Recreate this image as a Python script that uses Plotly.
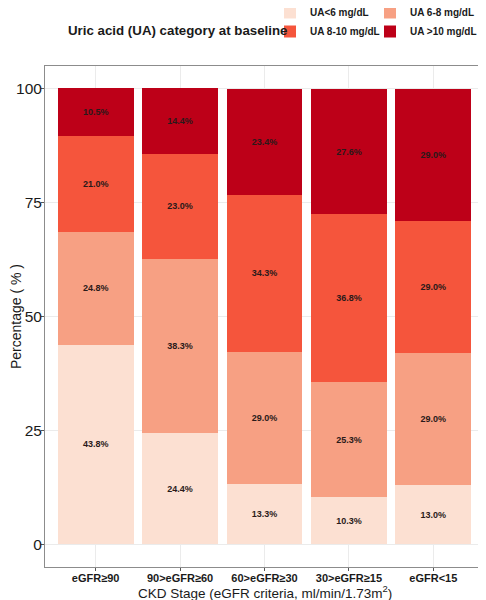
import plotly.graph_objects as go

# CKD stages on the x axis
stages = ["eGFR≥90", "90>eGFR≥60", "60>eGFR≥30", "30>eGFR≥15", "eGFR<15"]

# percentage of each uric acid category per stage (bottom to top)
ua_lt6 = [43.8, 24.4, 13.3, 10.3, 13.0]
ua_6_8 = [24.8, 38.3, 29.0, 25.3, 29.0]
ua_8_10 = [21.0, 23.0, 34.3, 36.8, 29.0]
ua_gt10 = [10.5, 14.4, 23.4, 27.6, 29.0]

series = [
    ("UA<6 mg/dL", ua_lt6, "#FCE0D2", "legend"),
    ("UA 6-8 mg/dL", ua_6_8, "#F7A083", "legend2"),
    ("UA 8-10 mg/dL", ua_8_10, "#F5553C", "legend"),
    ("UA >10 mg/dL", ua_gt10, "#BD0018", "legend2"),
]

FONT = "Arial, Liberation Sans, sans-serif"

fig = go.Figure()
for name, vals, col, leg in series:
    fig.add_trace(go.Bar(
        x=stages, y=vals, name=name, marker_color=col, marker_line_width=0,
        text=vals, texttemplate="<b>%{text:.1f}%</b>",
        textposition="inside", insidetextanchor="middle",
        textfont=dict(size=9, color="#2a1a1a", family=FONT),
        legend=leg,
    ))

# the page body adds an 8px offset, so the figure is 8px smaller
# and all pixel positions below are screen positions mapped onto the plot area
PX0, PY0, PW, PH = 45, 66, 439, 501

leg_style = dict(
    yref="paper", y=(PY0 + PH + 2) / PH, xanchor="left", yanchor="top",
    tracegroupgap=0, traceorder="normal", bgcolor="rgba(0,0,0,0)",
    font=dict(size=10, family=FONT, weight="bold"),
)

fig.update_layout(
    width=478, height=592,
    barmode="stack", bargap=0.1,
    plot_bgcolor="white", paper_bgcolor="white",
    font=dict(family=FONT, color="#1a1a1a"),
    margin=dict(l=37, r=2, t=58, b=33, autoexpand=False),
    legend=dict(x=(270 - PX0) / PW, **leg_style),
    legend2=dict(x=(370 - PX0) / PW, **leg_style),
    annotations=[
        dict(
            text="<b>Uric acid (UA) category at baseline</b>",
            xref="paper", yref="paper", x=(66 - PX0) / PW, y=(PY0 + PH - 30) / PH,
            xanchor="left", yanchor="middle", showarrow=False,
            font=dict(size=13.3, family=FONT, color="#1a1a1a"),
        ),
        dict(
            text="CKD Stage (eGFR criteria, ml/min/1.73m<sup>2</sup>)",
            xref="paper", yref="paper", x=0.5, y=(PY0 + PH - 592) / PH,
            xanchor="center", yanchor="middle", showarrow=False,
            font=dict(size=13.5, family=FONT, color="#1a1a1a"),
        ),
    ],
)

fig.update_xaxes(
    range=[-0.6, 4.6], showgrid=True, gridcolor="#EBEBEB",
    showline=True, linecolor="#8C8C8C", mirror=True, linewidth=1,
    ticks="outside", ticklen=3, tickcolor="#555555", tickangle=0,
    tickfont=dict(size=11, family=FONT, color="#1a1a1a", weight="bold"),
    ticklabelstandoff=-2,
    automargin=False,
)
fig.update_yaxes(
    range=[-5, 105], tickvals=[0, 25, 50, 75, 100],
    showgrid=True, gridcolor="#EBEBEB", zeroline=False,
    showline=True, linecolor="#8C8C8C", mirror=True, linewidth=1,
    ticks="outside", ticklen=3, tickcolor="#555555",
    tickfont=dict(size=15.5, family=FONT, color="#1a1a1a"),
    ticklabelstandoff=-4,
    title=dict(text="Percentage ( % )", font=dict(size=14, family=FONT), standoff=6),
    automargin=False,
)

fig.write_html("out.html")
